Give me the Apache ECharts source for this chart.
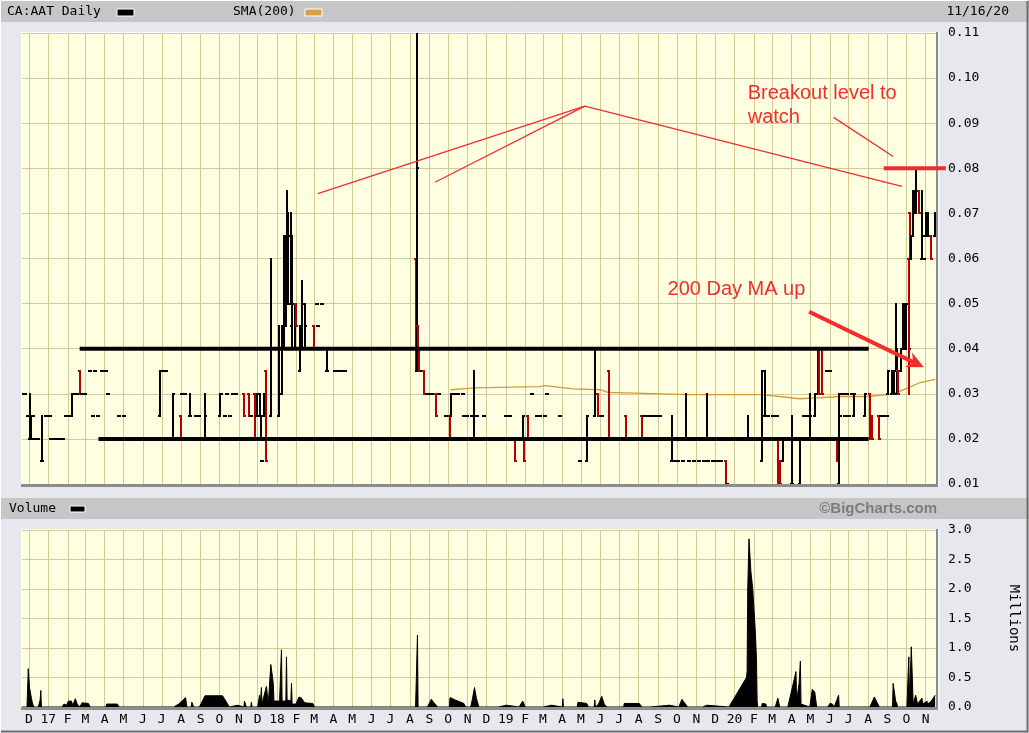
<!DOCTYPE html>
<html><head><meta charset="utf-8">
<script src="https://cdn.jsdelivr.net/npm/echarts@6/dist/echarts.min.js"></script>
<style>html,body{margin:0;padding:0;background:#e6e8ee}#c{width:1029px;height:733px}</style>
</head><body><div id="c"></div>
<script>
// ---------- data ----------
const startDate = '2016-11-20';
const endDate = '2020-11-19';
const monthLetters = ['J','F','M','A','M','J','J','A','S','O','N','D'];

// daily bars: [date, open, high, low, close]  ([date, price] = flat day)
const ohlcData = [
['2016-11-22',.030],['2016-11-25',.030],['2016-11-29',.025],
['2016-12-02',.020,.030,.020,.020],['2016-12-05',.020,.025,.020,.025],['2016-12-07',.025],
['2016-12-09',.020],['2016-12-13',.020],['2016-12-16',.020],['2016-12-22',.015,.025,.015,.015],
['2016-12-28',.025],['2017-01-03',.025],['2017-01-06',.020],['2017-01-11',.020],['2017-01-16',.020],
['2017-01-20',.020],['2017-01-25',.020],['2017-01-30',.025],['2017-02-02',.025],
['2017-02-08',.025,.030,.025,.030],['2017-02-13',.030],['2017-02-16',.030],
['2017-02-21',.035,.035,.030,.030],['2017-02-24',.030],['2017-03-01',.030],
['2017-03-09',.035],['2017-03-13',.025],['2017-03-16',.035],['2017-03-21',.025],
['2017-03-27',.035],['2017-04-03',.035],['2017-04-06',.030],['2017-04-24',.025],['2017-05-02',.025],
['2017-06-28',.025,.035,.025,.035],['2017-07-04',.035],['2017-07-07',.035],
['2017-07-19',.020,.030,.020,.030],['2017-07-31',.025,.025,.020,.020],['2017-08-02',.030],['2017-08-07',.030],
['2017-08-15',.025,.030,.025,.025],['2017-08-25',.025],['2017-08-29',.025],
['2017-09-08',.020,.030,.020,.025],['2017-10-02',.025,.030,.025,.030],['2017-10-04',.030],
['2017-10-10',.025],['2017-10-13',.030],['2017-10-18',.025],['2017-10-23',.030],['2017-10-27',.030],
['2017-11-10',.030,.030,.025,.025],['2017-11-17',.030,.030,.025,.025],['2017-11-21',.025],
['2017-11-27',.030,.030,.020,.020],['2017-11-30',.025,.030,.025,.030],['2017-12-04',.025,.030,.025,.025],
['2017-12-07',.020,.025,.020,.025],['2017-12-08',.015],['2017-12-11',.025,.030,.025,.030],
['2017-12-15',.035,.035,.015,.015],['2017-12-22',.025,.060,.025,.040],['2018-01-04',.025,.045,.025,.040],
['2018-01-09',.030,.045,.030,.045],['2018-01-12',.040,.065,.040,.060],['2018-01-15',.050,.065,.045,.060],
['2018-01-17',.060,.075,.050,.070],['2018-01-19',.055,.070,.050,.065],['2018-01-23',.050,.070,.050,.065],
['2018-01-25',.045,.065,.040,.050],['2018-01-29',.040,.050,.040,.045],['2018-01-31',.050,.050,.045,.045],
['2018-02-07',.035,.045,.035,.040],['2018-02-09',.040,.055,.040,.050],['2018-02-14',.040,.050,.040,.045],
['2018-03-01',.045,.045,.040,.040],['2018-03-06',.050],['2018-03-08',.045],['2018-03-13',.050],
['2018-03-22',.035,.040,.035,.035],['2018-04-03',.035],['2018-04-09',.035],['2018-04-13',.035],['2018-04-19',.035],
['2018-08-10',.060,.060,.035,.040],['2018-08-13',.035,.110,.035,.080],['2018-08-14',.045,.045,.040,.040],
['2018-08-16',.040,.040,.035,.035],['2018-08-20',.035],['2018-08-24',.035,.035,.030,.030],
['2018-08-29',.030],['2018-09-04',.030],['2018-09-07',.030],['2018-09-12',.030,.030,.025,.025],
['2018-09-17',.030],['2018-09-27',.025],['2018-10-02',.025],['2018-10-04',.025,.025,.020,.020],
['2018-10-05',.025,.030,.025,.030],['2018-10-10',.030],['2018-10-16',.030],['2018-10-24',.030],
['2018-10-26',.025],['2018-10-31',.025],['2018-11-08',.025],['2018-11-12',.020,.035,.020,.025],
['2018-11-16',.025],['2018-11-27',.025],['2019-01-02',.025],['2019-01-08',.025],
['2019-01-16',.020,.020,.015,.015],['2019-01-28',.020,.025,.020,.025],['2019-01-30',.020,.020,.015,.015],
['2019-02-05',.025,.025,.020,.020],['2019-02-11',.030],['2019-02-19',.025],['2019-02-25',.025],
['2019-03-04',.025],['2019-03-07',.030],['2019-03-28',.025],['2019-04-29',.015],
['2019-05-10',.015,.025,.015,.025],['2019-05-23',.025,.040,.025,.030],['2019-05-28',.030,.030,.025,.025],
['2019-06-03',.025],['2019-06-14',.035,.035,.020,.020],['2019-07-11',.025,.025,.020,.020],
['2019-08-06',.025,.025,.020,.020],['2019-08-09',.025],['2019-08-16',.025],['2019-08-23',.025],
['2019-08-28',.025],['2019-09-04',.025],['2019-09-23',.015,.025,.015,.015],['2019-09-27',.015],
['2019-10-03',.015],['2019-10-10',.015],['2019-10-15',.020,.030,.020,.020],['2019-10-21',.015],
['2019-10-28',.015],['2019-11-05',.015],['2019-11-13',.015],['2019-11-18',.020,.030,.020,.020],
['2019-11-20',.015],['2019-11-27',.015],['2019-12-04',.015],['2019-12-11',.015],
['2019-12-18',.015,.015,.010,.010],['2019-12-20',.010],['2020-01-22',.020,.025,.020,.020],
['2020-02-13',.015,.035,.015,.035],['2020-02-19',.025,.035,.025,.025],['2020-02-24',.025],
['2020-03-02',.025],['2020-03-09',.025],['2020-03-10',.020,.020,.010,.010],['2020-03-13',.015,.015,.010,.010],
['2020-03-18',.015,.020,.015,.020],['2020-04-01',.010,.025,.010,.010],['2020-04-14',.010,.020,.010,.020],
['2020-04-20',.025],['2020-04-27',.025],['2020-04-30',.020,.030,.020,.025],['2020-05-08',.025,.030,.025,.030],
['2020-05-13',.030,.040,.030,.040],['2020-05-15',.040,.040,.030,.030],['2020-05-20',.040,.040,.030,.030],
['2020-05-27',.035],['2020-06-02',.035],['2020-06-12',.020,.020,.015,.015],['2020-06-15',.010,.030,.010,.030],
['2020-06-18',.025],['2020-06-22',.030],['2020-06-25',.025],['2020-06-29',.030],['2020-07-02',.025],
['2020-07-06',.030],['2020-07-09',.025,.030,.025,.030],['2020-07-27',.025,.030,.025,.030],
['2020-08-04',.030,.030,.020,.020],['2020-08-07',.025,.025,.020,.020],['2020-08-18',.025,.025,.020,.020],
['2020-08-21',.025],['2020-08-27',.025],['2020-09-01',.025],['2020-09-02',.030,.035,.030,.035],
['2020-09-08',.030,.035,.030,.030],['2020-09-11',.030,.035,.030,.035],['2020-09-14',.035,.050,.035,.040],
['2020-09-16',.030,.040,.030,.035],['2020-09-17',.035,.035,.030,.030],['2020-09-22',.035,.040,.035,.040],
['2020-09-25',.040,.050,.040,.045],['2020-09-29',.040,.050,.040,.050],['2020-10-01',.045,.050,.040,.050],
['2020-10-05',.060,.060,.030,.040],['2020-10-07',.070,.070,.060,.060],['2020-10-08',.060,.065,.060,.065],
['2020-10-12',.065,.075,.065,.075],['2020-10-13',.070,.075,.070,.075],['2020-10-15',.070,.075,.070,.070],
['2020-10-16',.070,.080,.070,.075],['2020-10-21',.075,.075,.070,.070],['2020-10-26',.060,.075,.060,.065],
['2020-10-29',.060],['2020-11-02',.065,.070,.065,.070],['2020-11-05',.065,.070,.065,.065],
['2020-11-10',.065,.065,.060,.060],['2020-11-16',.065,.070,.065,.065]
];

// 200-day simple moving average: [date, value]
const sma200 = [
['2018-10-05',.0309],['2018-11-12',.0313],['2019-02-24',.0316],['2019-03-05',.0318],['2019-04-18',.0311],
['2019-05-31',.0309],['2019-06-13',.0303],['2019-10-19',.0298],['2020-02-14',.0298],['2020-04-14',.0289],
['2020-05-11',.0291],['2020-06-17',.0294],['2020-08-01',.0294],['2020-09-10',.0300],['2020-10-02',.0312],
['2020-10-23',.0325],['2020-11-16',.0332]
];

// volume in millions: [date, value]
const volume = [
['2016-11-20',0],['2016-11-28',0],['2016-11-30',0.65],['2016-12-02',0.33],['2016-12-05',0.15],['2016-12-07',0.05],['2016-12-09',0],
['2016-12-16',0],['2016-12-19',0.12],['2016-12-20',0.28],['2016-12-21',0],
['2017-01-23',0],['2017-01-26',0.05],['2017-01-30',0.03],['2017-02-02',0.10],['2017-02-07',0.10],['2017-02-09',0.02],
['2017-02-13',0.14],['2017-02-16',0.05],['2017-02-20',0],['2017-02-24',0.07],['2017-03-06',0.06],['2017-03-09',0],
['2017-04-03',0],['2017-04-04',0.05],['2017-04-21',0.05],['2017-04-24',0],
['2017-07-20',0],['2017-07-28',0.05],['2017-08-08',0.16],['2017-08-10',0],['2017-08-17',0],['2017-08-18',0.08],['2017-08-21',0],
['2017-08-30',0],['2017-09-08',0.19],['2017-10-06',0.19],['2017-10-17',0],['2017-10-20',0.03],['2017-10-30',0.03],['2017-10-31',0],
['2017-11-09',0],['2017-11-10',0.10],['2017-11-13',0],['2017-11-20',0],['2017-11-21',0.08],['2017-11-22',0],
['2017-12-01',0],['2017-12-04',0.20],['2017-12-05',0.02],['2017-12-07',0.33],['2017-12-08',0.05],['2017-12-15',0.35],['2017-12-18',0.05],
['2017-12-21',0.05],['2017-12-22',0.72],['2017-12-26',0.40],['2017-12-27',0.10],['2018-01-05',0.10],['2018-01-08',0.97],['2018-01-09',0.10],
['2018-01-15',0.10],['2018-01-16',0.85],['2018-01-17',0.12],['2018-01-23',0.10],['2018-01-24',0.40],['2018-01-25',0.05],
['2018-01-31',0.05],['2018-02-05',0.17],['2018-02-09',0.15],['2018-02-14',0.07],['2018-02-27',0.06],['2018-03-02',0],
['2018-08-10',0],['2018-08-13',1.22],['2018-08-14',0],['2018-08-29',0],['2018-09-04',0.13],['2018-09-14',0],
['2018-10-03',0],['2018-10-04',0.16],['2018-10-12',0.12],['2018-10-26',0.06],['2018-10-29',0],
['2018-11-06',0],['2018-11-09',0.15],['2018-11-12',0.33],['2018-11-15',0.15],['2018-11-19',0],
['2018-12-20',0],['2018-12-21',0.03],['2019-01-02',0.03],['2019-01-03',0],['2019-01-22',0],['2019-01-28',0.10],['2019-02-01',0],
['2019-03-01',0],['2019-03-04',0.03],['2019-03-15',0.03],['2019-03-18',0],['2019-04-01',0],['2019-04-02',0.14],['2019-04-03',0],
['2019-04-25',0],['2019-04-26',0.08],['2019-05-10',0.06],['2019-05-13',0],['2019-05-22',0],['2019-05-23',0.12],['2019-05-24',0],
['2019-05-29',0.05],['2019-06-03',0.18],['2019-06-07',0.05],['2019-06-11',0],
['2019-07-08',0],['2019-07-09',0.06],['2019-08-02',0.06],['2019-08-06',0],['2019-08-19',0],['2019-08-20',0.03],['2019-09-19',0.03],['2019-09-20',0],
['2019-10-04',0],['2019-10-09',0.13],['2019-10-18',0],['2019-11-11',0],['2019-11-12',0.03],['2019-11-18',0.03],['2019-11-19',0],
['2019-12-23',0],['2020-01-20',0.50],['2020-01-21',0.60],['2020-01-22',2.00],['2020-01-24',2.85],['2020-01-27',2.30],
['2020-01-30',2.00],['2020-02-03',1.30],['2020-02-05',0.80],['2020-02-06',0.10],['2020-02-07',0],
['2020-02-13',0],['2020-02-14',0.06],['2020-02-20',0.05],['2020-02-21',0],['2020-03-06',0],['2020-03-10',0.15],['2020-03-13',0],
['2020-03-26',0],['2020-04-08',0.60],['2020-04-09',0.10],['2020-04-13',0.40],['2020-04-15',0.78],['2020-04-16',0.05],
['2020-04-30',0],['2020-05-04',0.30],['2020-05-08',0.25],['2020-05-11',0],['2020-05-29',0],['2020-06-01',0.06],['2020-06-05',0.05],['2020-06-08',0],
['2020-06-15',0.20],['2020-06-16',0],['2020-08-04',0],['2020-08-11',0.17],['2020-08-19',0],
['2020-09-09',0],['2020-09-10',0.40],['2020-09-14',0.10],['2020-09-16',0.06],['2020-09-17',0],
['2020-10-02',0],['2020-10-05',0.85],['2020-10-06',0.10],['2020-10-09',1.02],['2020-10-12',0.05],
['2020-10-16',0.20],['2020-10-19',0.05],['2020-10-26',0.15],['2020-10-27',0.05],['2020-11-03',0.10],
['2020-11-04',0.05],['2020-11-10',0.10],['2020-11-16',0.20]
];

// annotations in data space
const supportLines = [ // black horizontal channel lines: [fromDate, toDate, price]
  ['2017-02-20','2020-08-02',0.04],
  ['2017-03-22','2020-08-02',0.02]
];
const breakoutLine = ['2020-08-26','2020-12-03',0.08];
const trendLines = [ // thin red lines: [[date, price],[date, price]]
  [['2018-03-07',0.0744],['2019-05-07',0.0938]],
  [['2018-09-10',0.0769],['2019-05-07',0.0938]],
  [['2019-05-07',0.0938],['2020-09-24',0.0760]],
  [['2020-06-07',0.0913],['2020-09-10',0.0826]]
];
const maArrow = [['2020-04-29',0.0482],['2020-10-29',0.0359]];
const notes = [
  {text:'Breakout level to\nwatch', at:['2020-01-22',0.0993]},
  {text:'200 Day MA up', at:['2019-09-16',0.0559]}
];

// ---------- helpers ----------
const DAY = 86400000;
const t0 = Date.parse(startDate+'T00:00:00Z');
const nDays = Math.round((Date.parse(endDate+'T00:00:00Z') - t0)/DAY) + 1;
const days = [];
for (let i=0;i<nDays;i++) days.push(new Date(t0 + i*DAY).toISOString().slice(0,10));
const idx = s => Math.round((Date.parse(s+'T00:00:00Z') - t0)/DAY);
const isMonthStart = (i, v) => typeof v === 'string' ? v.slice(8) === '01' : days[i] && days[i].slice(8) === '01';
const monthLabel = v => {
  const m = +v.slice(5,7);
  return m === 1 ? v.slice(2,4) : monthLetters[m-1];
};

const barItems = ohlcData.map(r => r.length === 2 ? [idx(r[0]), r[1], r[1], r[1], r[1]] : [idx(r[0]), r[1], r[2], r[3], r[4]]);
const smaItems = sma200.map(r => [idx(r[0]), r[1]]);
const volItems = volume.map(r => [idx(r[0]), r[1]]);

const MONO = '"DejaVu Sans Mono", monospace';
const G0 = {left:22, top:33, width:915, height:451};
const G1 = {left:22, top:530, width:915, height:177};
const gridColor = '#d3ca98';

const chart = echarts.init(document.getElementById('c'));
const option = {
  animation: false,
  backgroundColor: '#e6e8ee',
  grid: [
    Object.assign({show:true, backgroundColor:'#fefee0', borderWidth:0}, G0),
    Object.assign({show:true, backgroundColor:'#fefee0', borderWidth:0}, G1)
  ],
  xAxis: [
    {type:'category', gridIndex:0, data:days, boundaryGap:false,
     axisLine:{show:false}, axisTick:{show:false}, axisLabel:{show:false},
     splitLine:{show:true, interval:isMonthStart, lineStyle:{color:gridColor, width:1}}},
    {type:'category', gridIndex:1, data:days, boundaryGap:false,
     axisLine:{show:false}, axisTick:{show:false},
     axisLabel:{show:true, interval:isMonthStart, formatter:monthLabel, margin:6,
       fontFamily:'DejaVu Sans Mono', fontSize:13, color:'#000'},
     splitLine:{show:true, interval:isMonthStart, lineStyle:{color:gridColor, width:1}}}
  ],
  yAxis: [
    {type:'value', gridIndex:0, position:'right', min:0.01, max:0.11, interval:0.01,
     axisLine:{show:false}, axisTick:{show:false},
     axisLabel:{margin:11, padding:[4,0,0,0], formatter:v => v.toFixed(2), fontFamily:'DejaVu Sans Mono', fontSize:13, color:'#000'},
     splitLine:{show:true, lineStyle:{color:gridColor, width:1}}},
    {type:'value', gridIndex:1, position:'right', min:0, max:3, interval:0.5,
     axisLine:{show:false}, axisTick:{show:false},
     name:'Millions', nameLocation:'middle', nameRotate:-90, nameGap:70,
     nameTextStyle:{fontFamily:'DejaVu Sans Mono', fontSize:14, color:'#000'},
     axisLabel:{margin:11, padding:[4,0,0,0], formatter:v => v.toFixed(1), fontFamily:'DejaVu Sans Mono', fontSize:13, color:'#000'},
     splitLine:{show:true, lineStyle:{color:gridColor, width:1}}}
  ],
  series: [
    {type:'line', name:'SMA(200)', xAxisIndex:0, yAxisIndex:0, data:smaItems, showSymbol:false,
     lineStyle:{color:'#d29a3c', width:1.3}, z:3},
    {type:'custom', name:'CA:AAT', xAxisIndex:0, yAxisIndex:0, data:barItems, z:4,
     dimensions:['x','open','high','low','close'], encode:{x:0, y:[1,2,3,4]},
     renderItem:function(params, api){
       const x = api.value(0), o = api.value(1), h = api.value(2), l = api.value(3), c = api.value(4);
       const pH = api.coord([x,h]), pL = api.coord([x,l]), pO = api.coord([x,o]), pC = api.coord([x,c]);
       const col = c < o ? '#b50000' : '#000000';
       const X = Math.round(pH[0]);
       const st = {stroke:col, lineWidth:2};
       return {type:'group', children:[
         {type:'line', shape:{x1:X, y1:Math.round(pH[1])-1, x2:X, y2:Math.round(pL[1])+1}, style:st},
         {type:'line', shape:{x1:X-2, y1:Math.round(pO[1]), x2:X, y2:Math.round(pO[1])}, style:st},
         {type:'line', shape:{x1:X, y1:Math.round(pC[1]), x2:X+2, y2:Math.round(pC[1])}, style:st}
       ]};
     }},
    {type:'line', name:'Volume', xAxisIndex:1, yAxisIndex:1, data:volItems, showSymbol:false,
     lineStyle:{color:'#000', width:1}, areaStyle:{color:'#000', opacity:1}, z:3}
  ]
};
chart.setOption(option);

// ---------- annotations & frame ----------
function P(date, price){
  const i = idx(date);
  const a = chart.convertToPixel({gridIndex:0}, [0, price]);
  const b = chart.convertToPixel({gridIndex:0}, [nDays-1, price]);
  return [a[0] + (b[0]-a[0]) * i/(nDays-1), a[1]];
}
const RED = '#f22d2d';
const g = [];
// page bands
g.push({type:'rect', z:0, shape:{x:0,y:0,width:1029,height:22}, style:{fill:'#c6c6c6'}});
g.push({type:'rect', z:0, shape:{x:0,y:498,width:1029,height:21}, style:{fill:'#c6c6c6'}});
// outer frame
g.push({type:'polyline', z:1, shape:{points:[[0.5,732],[0.5,0.5],[1028,0.5]]}, style:{stroke:'#ffffff', lineWidth:1, fill:null}});
g.push({type:'polyline', z:1, shape:{points:[[1,731.5],[1027.5,731.5],[1027.5,1]]}, style:{stroke:'#6e6e6e', lineWidth:2, fill:null}});
// header texts
g.push({type:'text', z:5, x:7, y:12, style:{text:'CA:AAT Daily', font:'13px '+MONO, fill:'#000', verticalAlign:'middle'}});
g.push({type:'rect', z:5, shape:{x:117,y:9,width:17,height:7}, style:{fill:'#000', stroke:'#fff', lineWidth:1}});
g.push({type:'text', z:5, x:233, y:12, style:{text:'SMA(200)', font:'13px '+MONO, fill:'#000', verticalAlign:'middle'}});
g.push({type:'rect', z:5, shape:{x:305,y:9,width:17,height:7}, style:{fill:'#d8a040', stroke:'#fff', lineWidth:1}});
g.push({type:'text', z:5, x:1009, y:12, style:{text:'11/16/20', font:'13px '+MONO, fill:'#000', align:'right', verticalAlign:'middle'}});
g.push({type:'text', z:5, x:9, y:509, style:{text:'Volume', font:'13px '+MONO, fill:'#000', verticalAlign:'middle'}});
g.push({type:'rect', z:5, shape:{x:70,y:506,width:15,height:6}, style:{fill:'#000', stroke:'#fff', lineWidth:1}});
g.push({type:'text', z:5, x:937, y:509, style:{text:'\u00A9BigCharts.com', font:'bold 15px "Liberation Sans", Arial, sans-serif', fill:'#7c7c7c', align:'right', verticalAlign:'middle'}});
// plot inset borders
[G0, G1].forEach(G => {
  const x0 = G.left, y0 = G.top, x1 = G.left + G.width, y1 = G.top + G.height;
  g.push({type:'polyline', z:6, shape:{points:[[x0-0.5,y1],[x0-0.5,y0-0.5],[x1,y0-0.5]]}, style:{stroke:'#ffffff', lineWidth:1, fill:null}});
  g.push({type:'line', z:6, shape:{x1:x0-1, y1:y1+1.5, x2:x1+1, y2:y1+1.5}, style:{stroke:'#8c8c8c', lineWidth:3}});
  g.push({type:'line', z:6, shape:{x1:x1, y1:y0-1, x2:x1, y2:y1+1}, style:{stroke:'#8c8c8c', lineWidth:2}});
  g.push({type:'line', z:6, shape:{x1:x1+2, y1:y0-1, x2:x1+2, y2:y1+3}, style:{stroke:'#ffffff', lineWidth:1}});
});
// black channel lines
supportLines.forEach(s => {
  const a = P(s[0], s[2]), b = P(s[1], s[2]);
  g.push({type:'line', z:20, shape:{x1:a[0], y1:a[1], x2:b[0], y2:b[1]}, style:{stroke:'#000', lineWidth:4}});
});
// breakout line
{
  const a = P(breakoutLine[0], breakoutLine[2]), b = P(breakoutLine[1], breakoutLine[2]);
  g.push({type:'line', z:21, shape:{x1:a[0], y1:a[1], x2:b[0], y2:b[1]}, style:{stroke:RED, lineWidth:4}});
}
// thin red trend lines
trendLines.forEach(t => {
  const a = P(t[0][0], t[0][1]), b = P(t[1][0], t[1][1]);
  g.push({type:'line', z:21, shape:{x1:a[0], y1:a[1], x2:b[0], y2:b[1]}, style:{stroke:RED, lineWidth:1.3}});
});
// arrow
{
  const a = P(maArrow[0][0], maArrow[0][1]), b = P(maArrow[1][0], maArrow[1][1]);
  const dx = b[0]-a[0], dy = b[1]-a[1], L = Math.hypot(dx,dy), ux = dx/L, uy = dy/L, nx = -uy, ny = ux;
  const hl = 17, hw = 8;
  g.push({type:'line', z:21, shape:{x1:a[0], y1:a[1], x2:b[0]-ux*10, y2:b[1]-uy*10}, style:{stroke:RED, lineWidth:4}});
  g.push({type:'polygon', z:21, shape:{points:[[b[0],b[1]],[b[0]-ux*hl+nx*hw, b[1]-uy*hl+ny*hw],[b[0]-ux*hl*0.7, b[1]-uy*hl*0.7],[b[0]-ux*hl-nx*hw, b[1]-uy*hl-ny*hw]]}, style:{fill:RED}});
}
// notes
notes.forEach(n => {
  const p = P(n.at[0], n.at[1]);
  g.push({type:'text', z:22, x:p[0], y:p[1], style:{text:n.text, font:'20px "Liberation Sans", Arial, sans-serif', fill:RED, lineHeight:24, verticalAlign:'top'}});
});
chart.setOption({graphic: g});
</script>
</body></html>
